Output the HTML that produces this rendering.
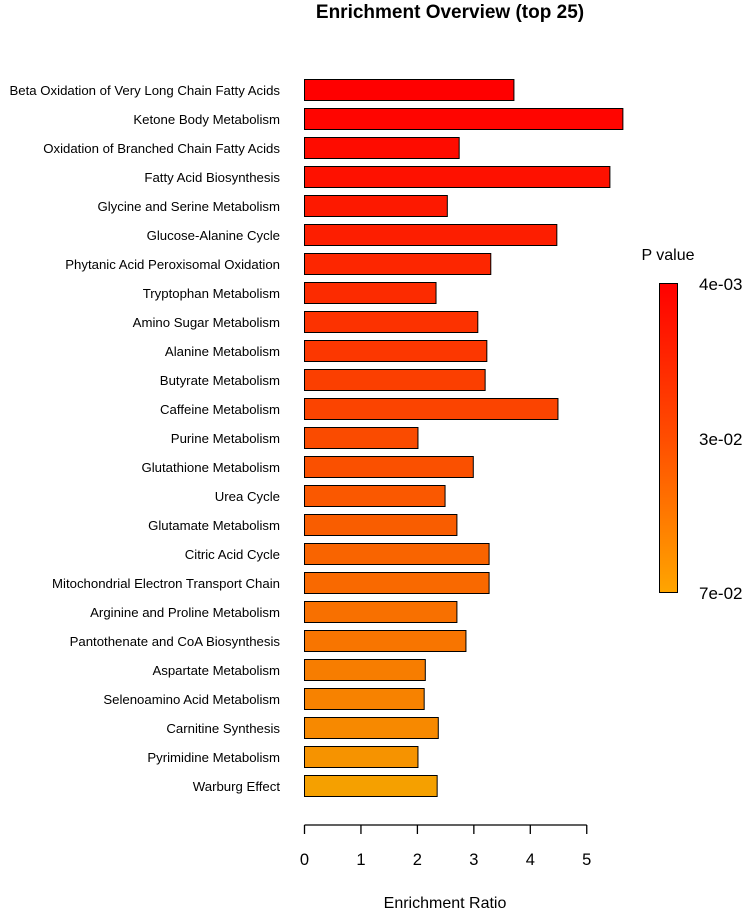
<!DOCTYPE html>
<html><head><meta charset="utf-8"><style>
body{margin:0;background:#fff;font-family:"Liberation Sans",sans-serif;}
svg text{font-family:"Liberation Sans",sans-serif;}
</style></head><body>
<svg id="chart" width="745" height="909" xmlns="http://www.w3.org/2000/svg">
<defs><linearGradient id="cb" x1="0" y1="0" x2="0" y2="1"><stop offset="0" stop-color="#ff0000"/><stop offset="0.5" stop-color="#ff4d00"/><stop offset="1" stop-color="#ffa500"/></linearGradient></defs>
<text x="450" y="18" text-anchor="middle" font-size="19" font-weight="bold">Enrichment Overview (top 25)</text>
<g id="bars"></g>
<g id="xaxis"></g>
<text x="445" y="908" text-anchor="middle" font-size="16">Enrichment Ratio</text>
<text x="668" y="260" text-anchor="middle" font-size="16">P value</text>
<rect x="659.5" y="283.5" width="18" height="309" fill="url(#cb)" stroke="#000" stroke-width="1"/>
<text x="699" y="290" font-size="17">4e-03</text>
<text x="699" y="445" font-size="17">3e-02</text>
<text x="699" y="599" font-size="17">7e-02</text>
</svg>
<script>
const categories=["Beta Oxidation of Very Long Chain Fatty Acids","Ketone Body Metabolism","Oxidation of Branched Chain Fatty Acids","Fatty Acid Biosynthesis","Glycine and Serine Metabolism","Glucose-Alanine Cycle","Phytanic Acid Peroxisomal Oxidation","Tryptophan Metabolism","Amino Sugar Metabolism","Alanine Metabolism","Butyrate Metabolism","Caffeine Metabolism","Purine Metabolism","Glutathione Metabolism","Urea Cycle","Glutamate Metabolism","Citric Acid Cycle","Mitochondrial Electron Transport Chain","Arginine and Proline Metabolism","Pantothenate and CoA Biosynthesis","Aspartate Metabolism","Selenoamino Acid Metabolism","Carnitine Synthesis","Pyrimidine Metabolism","Warburg Effect"];
const ratios=[3.71,5.64,2.74,5.41,2.53,4.47,3.30,2.33,3.07,3.23,3.20,4.49,2.01,2.99,2.49,2.70,3.27,3.27,2.70,2.86,2.14,2.12,2.37,2.01,2.35];
const pValues=[0.004,0.006,0.009,0.011,0.014,0.016,0.019,0.021,0.024,0.026,0.029,0.031,0.034,0.036,0.039,0.041,0.044,0.046,0.049,0.051,0.054,0.056,0.059,0.063,0.068];
const xTicks=[0,1,2,3,4,5];
const NS="http://www.w3.org/2000/svg";
const x=v=>304.5+v*56.45;
const y=i=>79+i*29.0;
const pMin=0.004,pMax=0.07;
function col(p){const t=Math.max(0,Math.min(1,(p-pMin)/(pMax-pMin)));return `rgb(${Math.round(255-10*t)},${Math.round(165*t)},0)`;}
function mk(tag,attrs,parent){const e=document.createElementNS(NS,tag);for(const k in attrs)e.setAttribute(k,attrs[k]);parent.appendChild(e);return e;}
const gb=document.getElementById('bars');
categories.forEach((c,i)=>{
  const r=mk('rect',{x:x(0),y:y(i)+0.5,width:x(ratios[i])-x(0),height:21,fill:col(pValues[i]),stroke:'#000','stroke-width':1},gb);
  
  
  const t=mk('text',{x:280,y:y(i)+16,'text-anchor':'end','font-size':13.2},gb);
  t.textContent=c;
  
  
});
const gx=document.getElementById('xaxis');
const ax=mk('line',{x1:x(0),x2:x(xTicks[xTicks.length-1]),y1:825,y2:825,stroke:'#000','stroke-width':1.3},gx);


xTicks.forEach(v=>{
  const l=mk('line',{x1:x(v),x2:x(v),y1:825,y2:834,stroke:'#000','stroke-width':1.3},gx);
  
  
  const t=mk('text',{x:x(v),y:865,'text-anchor':'middle','font-size':16.5},gx);
  t.textContent=v;
  
  
});
</script>
</body></html>
